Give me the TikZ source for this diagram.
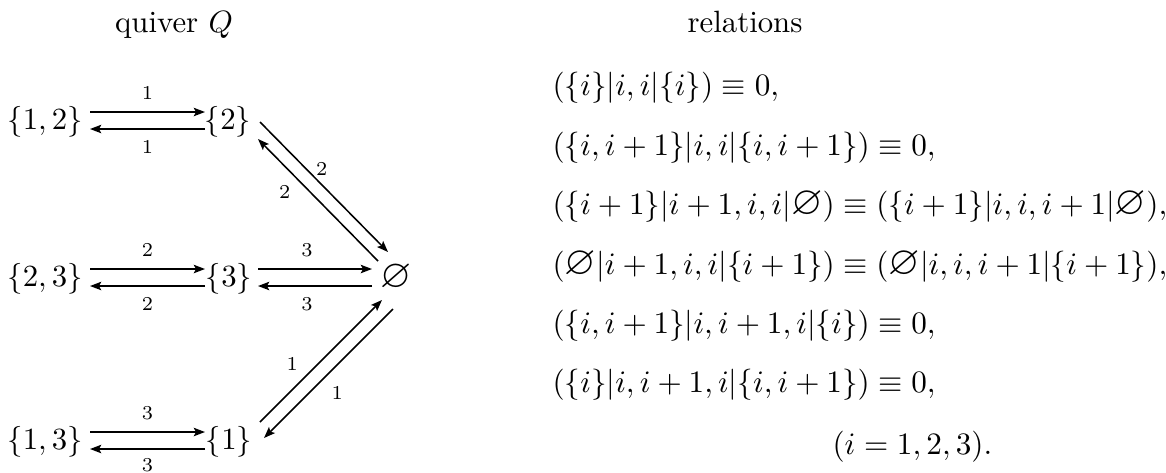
\documentclass[tikz,border=0pt]{standalone}
\usepackage{amsmath}
\usepackage{amssymb}
\usetikzlibrary{arrows.meta}
\newcommand{\qfont}{\fontsize{10.95}{13}\selectfont}
\newcommand{\lblfont}{\fontsize{7}{8}\selectfont}
\newcommand{\bigempty}{\mathord{\scalebox{1.3}{$\varnothing$}}}

\begin{document}
\begin{tikzpicture}[
  x=0.0125cm, y=-0.0125cm,
  vertex/.style={inner sep=0.5pt, font=\qfont},
  heading/.style={anchor=base, inner sep=0pt, font=\qfont},
  relation/.style={anchor=west, inner sep=0pt, font=\qfont, scale=1.012},
  qarrow/.style={-{Stealth[length=4pt, width=3pt, inset=0.8pt]}, line width=0.55pt},
  num/.style={inner sep=0pt, font=\lblfont},
]
\useasboundingbox (0,0) rectangle (1166,472);

% Headings
\node[heading] (hq) at (174,32) {quiver $Q$};
\node[heading] (hr) at (745,32) {relations};

% Vertices
\node[vertex] (v12) at (45,122) {$\{1,2\}$};
\node[vertex] (v2) at (228,122) {$\{2\}$};
\node[vertex] (v23) at (45,279) {$\{2,3\}$};
\node[vertex] (v3) at (229,279) {$\{3\}$};
\node[vertex] (v13) at (45,442) {$\{1,3\}$};
\node[vertex] (v1) at (229,442) {$\{1\}$};
\node[vertex] (v0) at (396,277) {$\bigempty$};

% Horizontal pairs
\draw[qarrow] ([shift={(45,-10)}]v12.center) -- ([shift={(-23,-10)}]v2.center)
  node[num, midway, shift={(0,-19)}] {1};
\draw[qarrow] ([shift={(-23,7)}]v2.center) -- ([shift={(45,7)}]v12.center)
  node[num, midway, shift={(0,18)}] {1};
\draw[qarrow] ([shift={(45,-10)}]v23.center) -- ([shift={(-24,-10)}]v3.center)
  node[num, midway, shift={(0,-19)}] {2};
\draw[qarrow] ([shift={(-24,7)}]v3.center) -- ([shift={(45,7)}]v23.center)
  node[num, midway, shift={(0,18)}] {2};
\draw[qarrow] ([shift={(29,-10)}]v3.center) -- ([shift={(-24,-8)}]v0.center)
  node[num, pos=0.43, shift={(0,-19)}] {3};
\draw[qarrow] ([shift={(-24,9)}]v0.center) -- ([shift={(29,7)}]v3.center)
  node[num, pos=0.57, shift={(0,18)}] {3};
\draw[qarrow] ([shift={(45,-10)}]v13.center) -- ([shift={(-24,-10)}]v1.center)
  node[num, midway, shift={(0,-19)}] {3};
\draw[qarrow] ([shift={(-24,7)}]v1.center) -- ([shift={(45,7)}]v13.center)
  node[num, midway, shift={(0,16)}] {3};

% Diagonal pairs
\draw[qarrow] ([shift={(32,0)}]v2.center) -- ([shift={(-8,-25)}]v0.center)
  node[num, pos=0.42, shift={(8,-8)}] {2};
\draw[qarrow] ([shift={(-18,-16)}]v0.center) -- ([shift={(30,17)}]v2.center)
  node[num, pos=0.67, shift={(-13,13)}] {2};
\draw[qarrow] ([shift={(31,-20)}]v1.center) -- ([shift={(-14,23)}]v0.center)
  node[num, pos=0.37, shift={(-13,-13)}] {1};
\draw[qarrow] ([shift={(-3,32)}]v0.center) -- ([shift={(35,-4)}]v1.center)
  node[num, pos=0.54, shift={(14,14)}] {1};

% Relations
\node[relation] (r1) at (552,88) {$(\{i\}|i,i|\{i\})\equiv 0,$};
\node[relation] (r2) at (552,147.4) {$(\{i,i+1\}|i,i|\{i,i+1\})\equiv 0,$};
\node[relation] (r3) at (552,206.8) {$(\{i+1\}|i+1,i,i|\bigempty)\equiv(\{i+1\}|i,i,i+1|\bigempty),$};
\node[relation] (r4) at (552,266.2) {$(\bigempty|i+1,i,i|\{i+1\})\equiv(\bigempty|i,i,i+1|\{i+1\}),$};
\node[relation] (r5) at (552,325.6) {$(\{i,i+1\}|i,i+1,i|\{i\})\equiv 0,$};
\node[relation] (r6) at (552,385) {$(\{i\}|i,i+1,i|\{i,i+1\})\equiv 0,$};
\node[relation] (r7) at (832,447) {$(i=1,2,3).$};
\end{tikzpicture}
\end{document}
